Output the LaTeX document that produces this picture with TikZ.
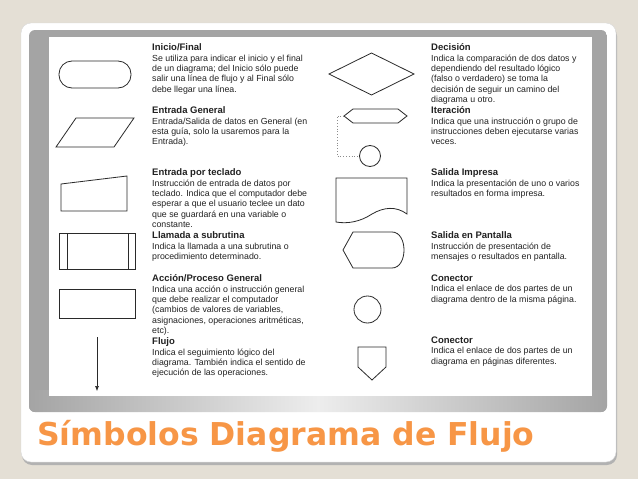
\documentclass[tikz,border=0pt]{standalone}
\usepackage{fontspec}
\setmainfont{Liberation Sans}
\newfontfamily\titlefont{DejaVu Sans}
\usetikzlibrary{arrows.meta}
\definecolor{bgbeige}{HTML}{E4DFD5}
\definecolor{framegray}{HTML}{A4A4A4}
\definecolor{framelight}{HTML}{EDEDED}
\definecolor{titleorange}{HTML}{F79646}
\definecolor{txt}{HTML}{222222}
\definecolor{shp}{HTML}{2A2A2A}
\tikzset{
  desc/.style={anchor=north west, align=left, inner sep=0pt, text=txt,
    font=\fontsize{8.8}{10.4}\selectfont},
  shape line/.style={draw=shp, line width=0.8pt}
}
\newcommand{\hdr}[1]{{\bfseries\fontsize{9.5}{10.4}\selectfont #1}}
\begin{document}
\begin{tikzpicture}[x=1pt,y=-1pt]
\useasboundingbox (0,0) rectangle (638,479);
\fill[bgbeige] (0,0) rectangle (638,479);
% card
\fill[black!30, rounded corners=10] (22,26) rectangle (617,465);
\filldraw[fill=white, draw=black!15, rounded corners=10] (21,23) rectangle (616,462);
% frame
\begin{scope}
\clip[rounded corners=6] (29,30) rectangle (607,412);
\fill[framegray] (29,30) rectangle (607,412);
\shade[left color=framegray, right color=framegray, middle color=framelight] (29,390) rectangle (607,412);
\end{scope}
\fill[white] (49,37) rectangle (592,396);
% ---- left shapes
\draw[shape line, rounded corners=13] (59,61) rectangle (131,88);
\draw[shape line] (56,147) -- (76,118) -- (134,118) -- (114,147) -- cycle;
\draw[shape line] (61,184) -- (127,176) -- (127,211) -- (61,211) -- cycle;
\draw[shape line] (59,233) rectangle (135,269);
\draw[shape line] (67,233) -- (67,269);
\draw[shape line] (128,233) -- (128,269);
\draw[shape line] (59,289) rectangle (135,318);
\coordinate (fa) at (97,337);
\coordinate (fb) at (97,391);
\draw[shp, line width=0.6pt, -{Latex[length=5pt,width=4pt]}] (fa) -- (fb);
% ---- right shapes
\draw[shape line] (329,74) -- (371.5,53) -- (414,74) -- (371.5,95) -- cycle;
\coordinate (hxl) at (344,116);
\draw[shape line] (hxl) -- (353,109) -- (398,109) -- (407,116) -- (398,123) -- (353,123) -- cycle;
\node[circle, shape line, minimum size=21pt, inner sep=0pt] (itc) at (370,156) {};
\draw[black!45, dotted, line width=0.8pt] (hxl) -- (337,116) -- (337,156) -- (itc.west);
\draw[shape line] (336,178) -- (407,178) -- (407,214)
  .. controls (396,206) and (384,207) .. (372,214)
  .. controls (360,222) and (347,224) .. (336,222) -- cycle;
\draw[shape line] (353,232) -- (392,232)
  .. controls (408,232) and (408,268) .. (392,268)
  -- (353,268) -- (343,250) -- cycle;
\node[circle, shape line, minimum size=27pt, inner sep=0pt] (con) at (367.5,309.5) {};
\draw[shape line] (358,347) -- (386,347) -- (386,367) -- (372,380) -- (358,367) -- cycle;
% ---- left texts
\node[desc] (t1) at (152,43.6) {\hdr{Inicio/Final}\\Se utiliza para indicar el inicio y el final\\de un diagrama; del Inicio sólo puede\\salir una línea de flujo y al Final sólo\\debe llegar una línea.};
\node[desc] (t2) at (152,106.6) {\hdr{Entrada General}\\Entrada/Salida de datos en General (en\\esta guía, solo la usaremos para la\\Entrada).};
\node[desc] (t3) at (152,168.6) {\hdr{Entrada por teclado}\\Instrucción de entrada de datos por\\teclado. Indica que el computador debe\\esperar a que el usuario teclee un dato\\que se guardará en una variable o\\constante.};
\node[desc] (t4) at (152,231.6) {\hdr{Llamada a subrutina}\\Indica la llamada a una subrutina o\\procedimiento determinado.};
\node[desc] (t5) at (152,274.6) {\hdr{Acción/Proceso General}\\Indica una acción o instrucción general\\que debe realizar el computador\\(cambios de valores de variables,\\asignaciones, operaciones aritméticas,\\etc).};
\node[desc] (t6) at (152,337.6) {\hdr{Flujo}\\Indica el seguimiento lógico del\\diagrama. También indica el sentido de\\ejecución de las operaciones.};
% ---- right texts
\node[desc] (r1) at (431,43.6) {\hdr{Decisión}\\Indica la comparación de dos datos y\\dependiendo del resultado lógico\\(falso o verdadero) se toma la\\decisión de seguir un camino del\\diagrama u otro.};
\node[desc] (r2) at (431,106.6) {\hdr{Iteración}\\Indica que una instrucción o grupo de\\instrucciones deben ejecutarse varias\\veces.};
\node[desc] (r3) at (431,168.6) {\hdr{Salida Impresa}\\Indica la presentación de uno o varios\\resultados en forma impresa.};
\node[desc] (r4) at (431,231.6) {\hdr{Salida en Pantalla}\\Instrucción de presentación de\\mensajes o resultados en pantalla.};
\node[desc] (r5) at (431,274.6) {\hdr{Conector}\\Indica el enlace de dos partes de un\\diagrama dentro de la misma página.};
\node[desc] (r6) at (431,336.6) {\hdr{Conector}\\Indica el enlace de dos partes de un\\diagrama en páginas diferentes.};
% ---- title
\node[anchor=base west, inner sep=0pt, text=titleorange, font=\titlefont\bfseries\fontsize{31.5}{34}\selectfont] (title) at (37,445) {Símbolos Diagrama de Flujo};
\end{tikzpicture}
\end{document}
